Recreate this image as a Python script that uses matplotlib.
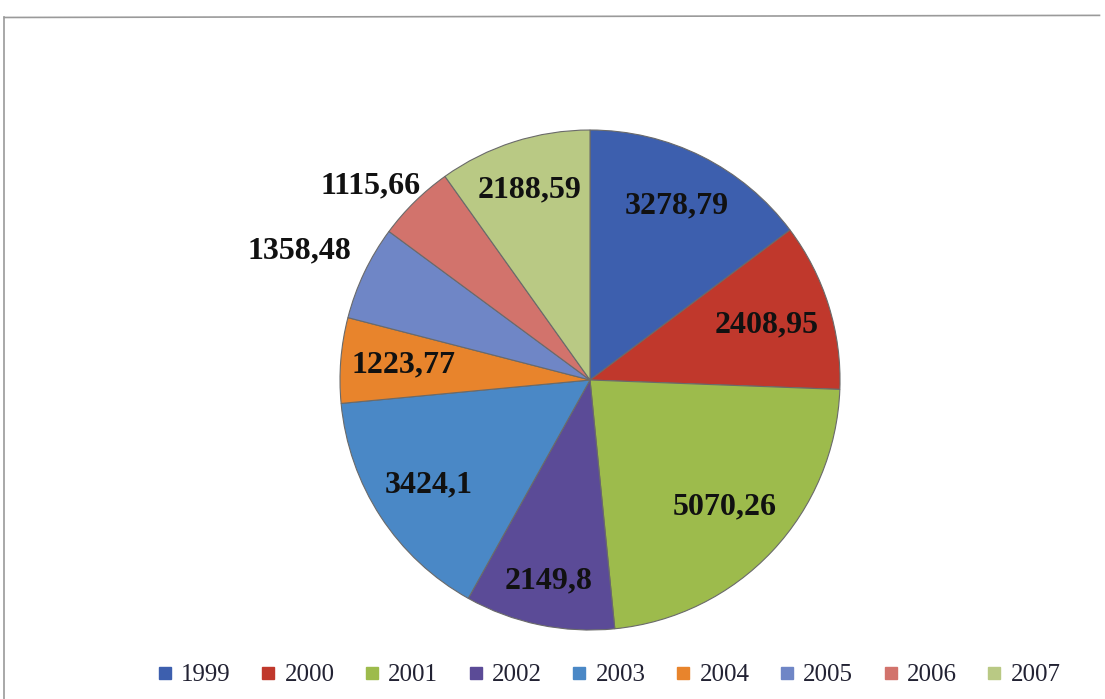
import numpy as np
import matplotlib
matplotlib.use('Agg')
import matplotlib.pyplot as plt
from matplotlib.lines import Line2D

plt.rcParams['font.family'] = ['Liberation Serif', 'DejaVu Serif']

years = ['1999', '2000', '2001', '2002', '2003', '2004', '2005', '2006', '2007']
values = [3278.79, 2408.95, 5070.26, 2149.8, 3424.1, 1223.77, 1358.48, 1115.66, 2188.59]
labels = ['3278,79', '2408,95', '5070,26', '2149,8', '3424,1', '1223,77', '1358,48', '1115,66', '2188,59']
colors = ['#3d5fae', '#c0382c', '#9dbb4c', '#5b4b97', '#4a88c6', '#e8842c', '#6f86c6', '#d2736c', '#b9c984']
# label distance from centre (fraction of radius) and small angle nudge (deg)
label_r = [0.78, 0.74, 0.74, 0.82, 0.77, 0.75, 1.27, 1.17, 0.80]
label_da = [0, 0, 0, 0, 0, 0, 1.5, 4, 0]

fig = plt.figure(figsize=(11.05, 6.99), dpi=100)
fig.patch.set_facecolor('white')

ax = fig.add_axes([0.3077, 0.0987, 0.4525, 0.7153])
wedges, _ = ax.pie(values, colors=colors, startangle=90, counterclock=False,
                   radius=1.0, wedgeprops=dict(edgecolor='#6a6a6a', linewidth=0.8))
ax.set_xlim(-1, 1)
ax.set_ylim(-1, 1)
ax.set_aspect('auto')
ax.axis('off')

for w, lab, r, da in zip(wedges, labels, label_r, label_da):
    ang = np.deg2rad((w.theta1 + w.theta2) / 2 + da)
    ax.text(r * np.cos(ang), r * np.sin(ang), lab, ha='center', va='center',
            fontsize=23, fontweight='bold', color='#111111')

handles = [Line2D([], [], marker='s', linestyle='none', markersize=8,
                  markerfacecolor=c, markeredgecolor=c) for c in colors]
fig.legend(handles, years, loc='center', bbox_to_anchor=(0.55, 0.034), ncol=9,
           frameon=False, fontsize=18, handlelength=0.8, handletextpad=0.25,
           columnspacing=1.1, labelcolor='#222233')

# frame lines of the original chart area
fig.add_artist(Line2D([0.004, 0.004], [0.0, 0.975], color='#9a9a9a', linewidth=1.2))
fig.add_artist(Line2D([0.004, 0.995], [0.975, 0.978], color='#9a9a9a', linewidth=1.2))

fig.savefig('out.png', dpi=100)
